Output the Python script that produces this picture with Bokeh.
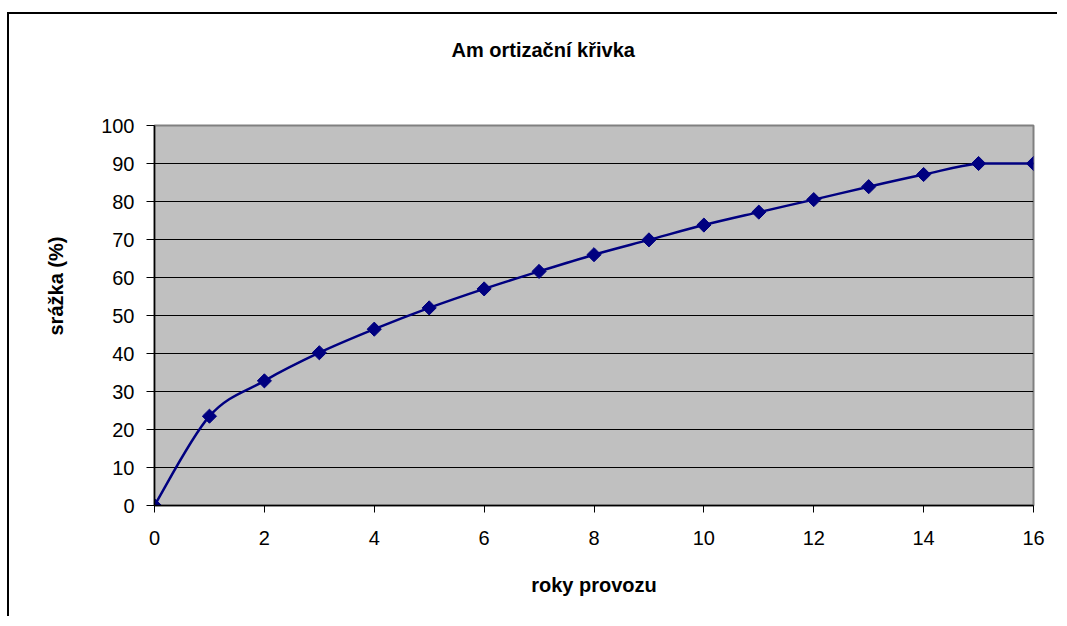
import numpy as np
from bokeh.plotting import figure
from bokeh.models import Range1d, FixedTicker, Title
from bokeh.embed import file_html
from bokeh.resources import INLINE

# data
years = [0, 1, 2, 3, 4, 5, 6, 7, 8, 9, 10, 11, 12, 13, 14, 15, 16]
srazka = [0, 23.5, 32.8, 40.2, 46.4, 52.0, 57.0, 61.6, 66.0, 69.9, 73.8, 77.2, 80.5, 83.9, 87.1, 90.0, 90.0]
x_ticks = [0, 2, 4, 6, 8, 10, 12, 14, 16]
y_ticks = [0, 10, 20, 30, 40, 50, 60, 70, 80, 90, 100]
title_text = "Am ortizační křivka"
x_label = "roky provozu"
y_label = "srážka (%)"

FONT = "Liberation Sans"

p = figure(width=1050, height=604, output_backend="svg", toolbar_location=None,
           x_range=Range1d(0, 16), y_range=Range1d(0, 100),
           min_border_left=145, min_border_right=26, min_border_top=111, min_border_bottom=113)
p.styles = {"border-top": "2px solid black", "border-left": "2px solid black",
            "margin-top": "12px", "margin-left": "7px"}

p.background_fill_color = "#C0C0C0"
p.border_fill_color = "white"
p.outline_line_color = "#808080"
p.outline_line_width = 2

p.xgrid.grid_line_color = None
p.ygrid.grid_line_color = "black"
p.ygrid.grid_line_width = 1

p.xaxis.ticker = FixedTicker(ticks=x_ticks)
p.yaxis.ticker = FixedTicker(ticks=y_ticks)
for ax in (p.xaxis[0], p.yaxis[0]):
    ax.axis_line_color = "black"
    ax.axis_line_width = 1.5
    ax.major_tick_line_color = "black"
    ax.major_tick_in = 0
    ax.minor_tick_line_color = None
    ax.major_label_text_font = FONT
    ax.major_label_text_font_size = "20px"
    ax.major_label_text_color = "black"
p.xaxis.major_tick_out = 7
p.yaxis.major_tick_out = 8
p.xaxis.major_label_standoff = 18
p.yaxis.major_label_standoff = 12

p.xaxis.axis_label = x_label
p.xaxis.axis_label_text_font = FONT
p.xaxis.axis_label_text_font_style = "bold"
p.xaxis.axis_label_text_font_size = "20px"
p.xaxis.axis_label_text_color = "black"
p.xaxis.axis_label_standoff = 26

# spacer between frame and title, then the chart title
p.add_layout(Title(text=" ", text_font_size="20px", standoff=36), "above")
p.add_layout(Title(text=title_text, align="left", offset=297, standoff=10,
                   text_font=FONT, text_font_style="bold", text_font_size="20px",
                   text_color="black"), "above")

# y axis title
p.add_layout(Title(text=y_label, align="left", offset=170, standoff=64,
                   text_font=FONT, text_font_style="bold", text_font_size="20px",
                   text_color="black"), "left")

# smoothed line (Bezier segments from the data, Catmull-Rom control points, no overshoot)
xs = np.array(years, dtype=float)
ys = np.array(srazka, dtype=float)
n = len(xs)
xp = np.concatenate([[xs[0]], xs, [xs[-1]]])
yp = np.concatenate([[ys[0]], ys, [ys[-1]]])
x0 = xs[:-1]; y0 = ys[:-1]; x1 = xs[1:]; y1 = ys[1:]
cx0 = x0 + (xp[2:n + 1] - xp[0:n - 1]) / 6.0
cy0 = y0 + (yp[2:n + 1] - yp[0:n - 1]) / 6.0
cx1 = x1 - (xp[3:n + 2] - xp[1:n]) / 6.0
cy1 = y1 - (yp[3:n + 2] - yp[1:n]) / 6.0
lo = np.minimum(y0, y1); hi = np.maximum(y0, y1)
cy0 = np.clip(cy0, lo, hi); cy1 = np.clip(cy1, lo, hi)
p.bezier(x0=x0, y0=y0, x1=x1, y1=y1, cx0=cx0, cy0=cy0, cx1=cx1, cy1=cy1,
         line_color="#000080", line_width=2.5)

p.scatter(years, srazka, marker="square", angle=np.pi / 4, size=10,
          fill_color="#000080", line_color="#000080")

open("out.html", "w").write(file_html(p, INLINE))
